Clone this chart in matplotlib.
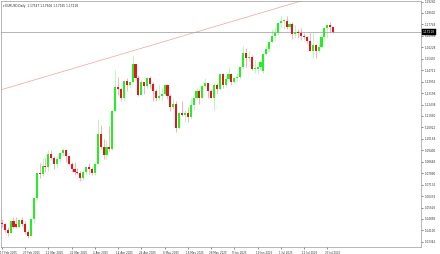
import matplotlib.pyplot as plt
import matplotlib.transforms as mtransforms
import numpy as np

# EURUSD daily bars, 17 Feb 2025 .. 25 Jul 2025 (approx.)
opens = [1.0460, 1.0453, 1.0415, 1.0395, 1.0470, 1.0455, 1.0435, 1.0482, 1.0455, 1.0398,
         1.0375, 1.0485, 1.0625, 1.0790, 1.0785, 1.0835, 1.0832, 1.0918, 1.0890, 1.0850,
         1.0880, 1.0922, 1.0945, 1.0900, 1.0850, 1.0815, 1.0800, 1.0790, 1.0755, 1.0800,
         1.0830, 1.0815, 1.0790, 1.0850, 1.1050, 1.0960, 1.0910, 1.0960, 1.0950, 1.1200,
         1.1360, 1.1345, 1.1285, 1.1400, 1.1370, 1.1395, 1.1510, 1.1420, 1.1310, 1.1390,
         1.1365, 1.1420, 1.1380, 1.1330, 1.1290, 1.1300, 1.1315, 1.1370, 1.1300, 1.1225,
         1.1250, 1.1090, 1.1185, 1.1175, 1.1185, 1.1160, 1.1240, 1.1285, 1.1330, 1.1285,
         1.1365, 1.1385, 1.1330, 1.1290, 1.1370, 1.1345, 1.1445, 1.1370, 1.1415, 1.1445,
         1.1395, 1.1420, 1.1425, 1.1490, 1.1585, 1.1550, 1.1560, 1.1480, 1.1480, 1.1495,
         1.1465, 1.1580, 1.1610, 1.1660, 1.1700, 1.1720, 1.1785, 1.1800, 1.1800, 1.1755,
         1.1780, 1.1710, 1.1725, 1.1720, 1.1700, 1.1690, 1.1665, 1.1600, 1.1640, 1.1595,
         1.1625, 1.1690, 1.1750, 1.1770, 1.17547]
highs = [1.0483, 1.0460, 1.0430, 1.0475, 1.0497, 1.0500, 1.0485, 1.0498, 1.0470, 1.0415,
         1.0495, 1.0630, 1.0800, 1.0855, 1.0890, 1.0890, 1.0945, 1.0945, 1.0905, 1.0905,
         1.0930, 1.0955, 1.0950, 1.0905, 1.0860, 1.0860, 1.0825, 1.0805, 1.0810, 1.0835,
         1.0855, 1.0830, 1.0860, 1.1145, 1.1110, 1.1015, 1.1010, 1.1100, 1.1215, 1.1475,
         1.1425, 1.1350, 1.1405, 1.1420, 1.1395, 1.1573, 1.1515, 1.1440, 1.1415, 1.1395,
         1.1425, 1.1430, 1.1390, 1.1345, 1.1380, 1.1350, 1.1380, 1.1380, 1.1315, 1.1285,
         1.1265, 1.1195, 1.1265, 1.1210, 1.1225, 1.1285, 1.1285, 1.1360, 1.1345, 1.1375,
         1.1420, 1.1385, 1.1345, 1.1385, 1.1385, 1.1455, 1.1455, 1.1435, 1.1495, 1.1455,
         1.1430, 1.1450, 1.1495, 1.1630, 1.1615, 1.1595, 1.1575, 1.1540, 1.1500, 1.1530,
         1.1585, 1.1640, 1.1660, 1.1745, 1.1755, 1.1790, 1.1830, 1.1810, 1.1830, 1.1790,
         1.1790, 1.1770, 1.1745, 1.1750, 1.1720, 1.1700, 1.1720, 1.1720, 1.1645, 1.1650,
         1.1700, 1.1760, 1.1780, 1.1790, 1.17606]
lows = [1.0430, 1.0400, 1.0370, 1.0390, 1.0425, 1.0425, 1.0425, 1.0440, 1.0385, 1.0360,
        1.0375, 1.0460, 1.0610, 1.0760, 1.0770, 1.0800, 1.0805, 1.0880, 1.0820, 1.0825,
        1.0860, 1.0900, 1.0865, 1.0840, 1.0797, 1.0780, 1.0785, 1.0735, 1.0745, 1.0780,
        1.0785, 1.0775, 1.0775, 1.0850, 1.0950, 1.0880, 1.0880, 1.0935, 1.0940, 1.1195,
        1.1310, 1.1265, 1.1265, 1.1330, 1.1355, 1.1385, 1.1410, 1.1300, 1.1305, 1.1315,
        1.1345, 1.1355, 1.1265, 1.1265, 1.1275, 1.1265, 1.1305, 1.1280, 1.1200, 1.1215,
        1.1065, 1.1080, 1.1170, 1.1130, 1.1130, 1.1150, 1.1205, 1.1280, 1.1245, 1.1285,
        1.1360, 1.1285, 1.1290, 1.1210, 1.1315, 1.1340, 1.1355, 1.1360, 1.1405, 1.1375,
        1.1385, 1.1400, 1.1415, 1.1480, 1.1490, 1.1530, 1.1475, 1.1450, 1.1445, 1.1470,
        1.1450, 1.1575, 1.1590, 1.1655, 1.1665, 1.1705, 1.1760, 1.1745, 1.1745, 1.1745,
        1.1680, 1.1685, 1.1685, 1.1670, 1.1675, 1.1650, 1.1595, 1.1555, 1.1555, 1.1590,
        1.1615, 1.1665, 1.1685, 1.1725, 1.17165]
closes = [1.0453, 1.0415, 1.0395, 1.0470, 1.0430, 1.0435, 1.0482, 1.0455, 1.0398, 1.0375,
          1.0485, 1.0625, 1.0790, 1.0785, 1.0835, 1.0832, 1.0918, 1.0890, 1.0850, 1.0880,
          1.0922, 1.0945, 1.0900, 1.0850, 1.0815, 1.0800, 1.0790, 1.0755, 1.0800, 1.0830,
          1.0815, 1.0790, 1.0850, 1.1050, 1.0960, 1.0910, 1.0960, 1.0950, 1.1200, 1.1360,
          1.1345, 1.1285, 1.1400, 1.1370, 1.1395, 1.1510, 1.1420, 1.1310, 1.1390, 1.1365,
          1.1420, 1.1380, 1.1330, 1.1290, 1.1300, 1.1315, 1.1370, 1.1300, 1.1225, 1.1250,
          1.1090, 1.1185, 1.1175, 1.1185, 1.1160, 1.1240, 1.1285, 1.1330, 1.1285, 1.1365,
          1.1385, 1.1330, 1.1290, 1.1370, 1.1345, 1.1445, 1.1370, 1.1415, 1.1445, 1.1395,
          1.1420, 1.1425, 1.1490, 1.1585, 1.1550, 1.1560, 1.1480, 1.1480, 1.1495, 1.1525,
          1.1580, 1.1610, 1.1660, 1.1700, 1.1720, 1.1785, 1.1800, 1.1800, 1.1755, 1.1780,
          1.1710, 1.1725, 1.1720, 1.1700, 1.1690, 1.1665, 1.1600, 1.1640, 1.1595, 1.1625,
          1.1690, 1.1750, 1.1770, 1.1755, 1.17218]

date_ticks = [0, 8, 16, 24, 32, 40, 48, 56, 64, 72, 80, 88, 96, 104, 112]
date_labels = ['17 Feb 2025', '27 Feb 2025', '11 Mar 2025', '21 Mar 2025', '2 Apr 2025',
               '14 Apr 2025', '24 Apr 2025', '6 May 2025', '16 May 2025', '28 May 2025',
               '9 Jun 2025', '19 Jun 2025', '1 Jul 2025', '11 Jul 2025', '23 Jul 2025']
price_ticks = [1.19260, 1.18502, 1.17744, 1.16986, 1.16228, 1.15470, 1.14712, 1.13954,
               1.13196, 1.12438, 1.11680, 1.10922, 1.10164, 1.09406, 1.08648, 1.07890,
               1.07132, 1.06374, 1.05616, 1.04858, 1.04100, 1.03342]
last_price = 1.17218
trend_a = (0, 1.1343)
trend_b = (104, 1.1935)

bull = '#22f022'
bear = '#e8141b'

o = np.array(opens)
h = np.array(highs)
l = np.array(lows)
c = np.array(closes)
x = np.arange(len(o))
cols = np.where(c >= o, bull, bear)

fig = plt.figure(figsize=(4.4, 2.54), dpi=100)
ax = fig.add_axes([0.002, 0.0276, 0.9545, 0.9685])

# wicks then bodies
ax.vlines(x, l, h, colors=cols, lw=0.5, alpha=0.45, zorder=2)
body = np.maximum(np.abs(c - o), 0.0003)
ax.bar(x, body, bottom=np.minimum(o, c), width=0.72, color=cols, lw=0, zorder=3)

# trend line and last price line
ax.axline(trend_a, trend_b, color='#f0a0a0', lw=0.5, zorder=1)
ax.axhline(last_price, color='#a8a8a8', lw=0.6, zorder=1)

ax.set_xlim(-0.34, 144.2)
ax.set_ylim(1.03002, 1.19294)

ax.yaxis.tick_right()
ax.set_yticks(price_ticks)
ax.set_yticklabels([f'{p:.5f}' for p in price_ticks])
ax.set_xticks(date_ticks)
ax.set_xticklabels(date_labels)
ax.tick_params(axis='y', labelsize=2.0, length=1.5, width=0.4, pad=1.5, colors='#333333')
ax.tick_params(axis='x', labelsize=2.0, length=1.5, width=0.4, pad=1.2, colors='#333333')
shift = mtransforms.ScaledTranslation(-2 / 100, 0, fig.dpi_scale_trans)
for lab in ax.get_xticklabels():
    lab.set_ha('left')
    lab.set_transform(lab.get_transform() + shift)

for s in ax.spines.values():
    s.set_color('#9a9a9a')
    s.set_linewidth(0.5)

# current price box on the axis
ax.annotate(f'{last_price:.5f}', xy=(1.0, last_price), xycoords=('axes fraction', 'data'),
            xytext=(1.5, 0), textcoords='offset points', fontsize=2.1, color='white',
            va='center', ha='left',
            bbox=dict(boxstyle='square,pad=0.3', fc='black', ec='black', lw=0.3))

fig.text(0.006, 0.985, '\u25be EURUSD,Daily  1.17547 1.17606 1.17165 1.17218',
         fontsize=2.1, color='#222222', va='top', ha='left')

fig.savefig('out.png', dpi=100)
